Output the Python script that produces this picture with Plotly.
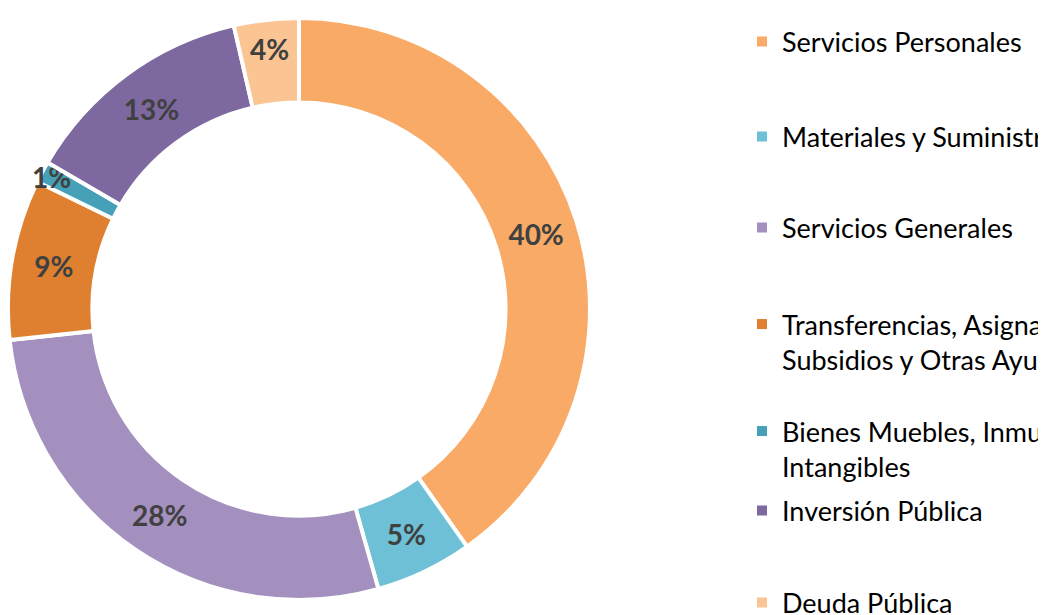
import plotly.graph_objects as go

categories = [
    "Servicios Personales",
    "Materiales y Suministros",
    "Servicios Generales",
    "Transferencias, Asignaciones,<br>Subsidios y Otras Ayudas",
    "Bienes Muebles, Inmuebles e<br>Intangibles",
    "Inversión Pública",
    "Deuda Pública",
]
shares = [40.2, 5.4, 27.7, 8.9, 1.2, 13.0, 3.6]
colors = ["#F9AA66", "#6EC0D6", "#A390BE", "#DE8030", "#45A0B8", "#7D69A0", "#FBC493"]

W, H = 1046, 615
OFF = 8  # page body margin in the browser
cx, cy, R = 299 - OFF, 309 - OFF, 291

fig = go.Figure()
fig.add_trace(go.Pie(
    labels=categories,
    values=shares,
    sort=False,
    direction="clockwise",
    rotation=0,
    hole=0.71,
    marker=dict(colors=colors, line=dict(color="white", width=4)),
    texttemplate="%{percent:.0%}",
    textposition="inside",
    insidetextorientation="horizontal",
    textfont=dict(family="Lato", size=28, color="#404040", weight="bold"),
    showlegend=False,
    domain=dict(x=[max(0, (cx - R) / W), (cx + R) / W], y=[(H - cy - R) / H, (H - cy + R) / H]),
))

# legend entries (one legend per item to mimic spacing); centres in reference pixels
legend_y = [42, 137, 228, 342, 449, 511, 603]
layout_legends = {}
for i, (lab, col) in enumerate(zip(categories, colors)):
    name = "legend" if i == 0 else f"legend{i+1}"
    fig.add_trace(go.Scatter(
        x=[None], y=[None], mode="markers", name=lab,
        marker=dict(symbol="square", size=10, color=col),
        legend=name, showlegend=True,
    ))
    layout_legends[name] = dict(
        x=(742 - OFF) / W, xanchor="left",
        y=(H - (legend_y[i] - OFF)) / H, yanchor="middle",
        font=dict(family="Lato", size=27, color="#000000"),
        bgcolor="rgba(0,0,0,0)", valign="top",
        itemclick=False, itemdoubleclick=False,
    )

fig.update_layout(
    width=W, height=H,
    margin=dict(l=0, r=0, t=0, b=0, autoexpand=False),
    paper_bgcolor="white", plot_bgcolor="white",
    uniformtext=dict(minsize=28, mode="show"),
    xaxis=dict(visible=False), yaxis=dict(visible=False),
    **layout_legends,
)
fig.write_html("out.html")
